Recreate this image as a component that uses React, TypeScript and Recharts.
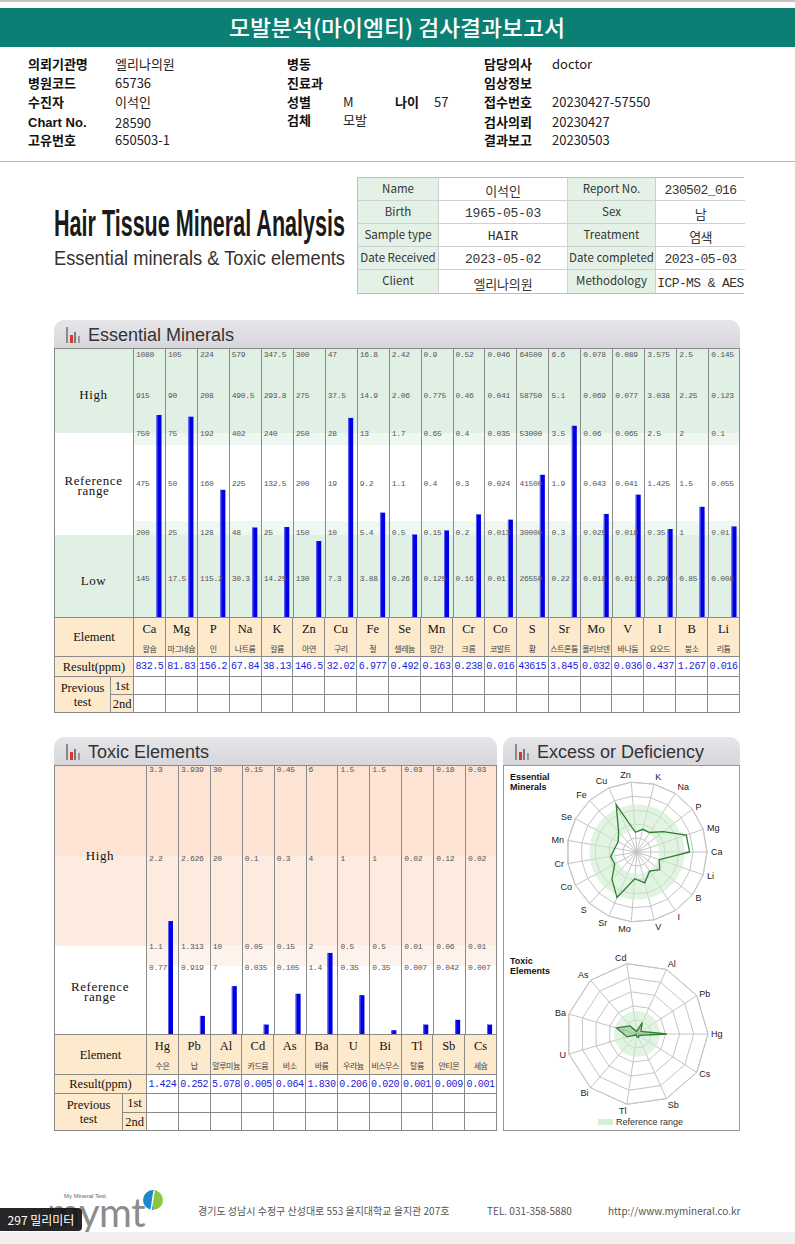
import React from 'react';
import {
  BarChart, Bar, XAxis, YAxis, ReferenceArea,
  RadarChart, Radar, PolarGrid, PolarAngleAxis, PolarRadiusAxis,
} from 'recharts';

// ---------- essential minerals ----------
const ESS_SYMBOLS = ['Ca', 'Mg', 'P', 'Na', 'K', 'Zn', 'Cu', 'Fe', 'Se', 'Mn', 'Cr', 'Co', 'S', 'Sr', 'Mo', 'V', 'I', 'B', 'Li'];
const ESS_NAMES = ['칼슘', '마그네슘', '인', '나트륨', '칼륨', '아연', '구리', '철', '셀레늄', '망간', '크롬', '코발트', '황', '스트론튬', '몰리브덴', '바나듐', '요오드', '붕소', '리튬'];
const ESS_RESULTS = [832.5, 81.83, 156.2, 67.84, 38.13, 146.5, 32.02, 6.977, 0.492, 0.163, 0.238, 0.016, 43615, 3.845, 0.032, 0.036, 0.437, 1.267, 0.016];
const ESS_TOP = [1080, 105, 224, 579, 347.5, 300, 47, 16.8, 2.42, 0.9, 0.52, 0.046, 64500, 6.6, 0.078, 0.089, 3.575, 2.5, 0.145];
const ESS_HIGH = [915, 90, 208, 490.5, 293.8, 275, 37.5, 14.9, 2.06, 0.775, 0.46, 0.041, 58750, 5.1, 0.069, 0.077, 3.038, 2.25, 0.123];
const ESS_REF_HIGH = [750, 75, 192, 402, 240, 250, 28, 13, 1.7, 0.65, 0.4, 0.035, 53000, 3.5, 0.06, 0.065, 2.5, 2, 0.1];
const ESS_REF_MID = [475, 50, 160, 225, 132.5, 200, 19, 9.2, 1.1, 0.4, 0.3, 0.024, 41500, 1.9, 0.043, 0.041, 1.425, 1.5, 0.055];
const ESS_REF_LOW = [200, 25, 128, 48, 25, 150, 10, 5.4, 0.5, 0.15, 0.2, 0.013, 30000, 0.3, 0.025, 0.018, 0.35, 1, 0.01];
const ESS_LOW = [145, 17.5, 115.2, 30.3, 14.25, 130, 7.3, 3.88, 0.26, 0.125, 0.16, 0.01, 26550, 0.22, 0.018, 0.011, 0.296, 0.85, 0.008];

// ---------- toxic elements ----------
const TOX_SYMBOLS = ['Hg', 'Pb', 'Al', 'Cd', 'As', 'Ba', 'U', 'Bi', 'Tl', 'Sb', 'Cs'];
const TOX_NAMES = ['수은', '납', '알루미늄', '카드뮴', '비소', '바륨', '우라늄', '비스무스', '탈륨', '안티몬', '세슘'];
const TOX_RESULTS = [1.424, 0.252, 5.078, 0.005, 0.064, 1.830, 0.206, 0.020, 0.001, 0.009, 0.001];
const TOX_TOP = [3.3, 3.939, 30, 0.15, 0.45, 6, 1.5, 1.5, 0.03, 0.18, 0.03];
const TOX_HIGH = [2.2, 2.626, 20, 0.1, 0.3, 4, 1, 1, 0.02, 0.12, 0.02];
const TOX_REF = [1.1, 1.313, 10, 0.05, 0.15, 2, 0.5, 0.5, 0.01, 0.06, 0.01];
const TOX_LOW = [0.77, 0.919, 7, 0.035, 0.105, 1.4, 0.35, 0.35, 0.007, 0.042, 0.007];

const INFO_ROWS = [
  ['Name', '이석인', 'Report No.', '230502_016'],
  ['Birth', '1965-05-03', 'Sex', '남'],
  ['Sample type', 'HAIR', 'Treatment', '염색'],
  ['Date Received', '2023-05-02', 'Date completed', '2023-05-03'],
  ['Client', '엘리나의원', 'Methodology', 'ICP-MS & AES'],
];

// chart height in px, and where each reference mark sits (px from the bottom)
const CHART_H = 269;
const ESS_MARK_POS = [0, 38, 84, 133, 183, 221, 262];
const TOX_MARK_POS = [0, 66, 87, 175, 264];

const KR = "'Noto Sans CJK KR', sans-serif";
const SANS = "'Liberation Sans', Arial, sans-serif";
const NARROW = "'Liberation Sans Narrow', 'Noto Sans CJK KR', sans-serif";
const MONO = "'Liberation Mono', 'Noto Sans CJK KR', monospace";
const SERIF = "'Liberation Serif', 'DejaVu Serif', serif";

function toLevel(v: number, marks: number[], pos: number[]) {
  const m = [0, ...marks];
  for (let i = 1; i < m.length; i++) {
    if (v <= m[i]) return pos[i - 1] + ((v - m[i - 1]) / (m[i] - m[i - 1])) * (pos[i] - pos[i - 1]);
  }
  return CHART_H;
}

const essData = ESS_SYMBOLS.map((sym, i) => {
  const marks = [ESS_LOW[i], ESS_REF_LOW[i], ESS_REF_MID[i], ESS_REF_HIGH[i], ESS_HIGH[i], ESS_TOP[i]];
  return {
    sym,
    name: ESS_NAMES[i],
    result: String(ESS_RESULTS[i]),
    marks,
    level: toLevel(ESS_RESULTS[i], marks, ESS_MARK_POS) / CHART_H,
    band: ESS_MARK_POS[4] / CHART_H,
  };
});

const toxData = TOX_SYMBOLS.map((sym, i) => {
  const marks = [TOX_LOW[i], TOX_REF[i], TOX_HIGH[i], TOX_TOP[i]];
  return {
    sym,
    name: TOX_NAMES[i],
    result: TOX_RESULTS[i].toFixed(3),
    marks,
    level: toLevel(TOX_RESULTS[i], marks, TOX_MARK_POS) / CHART_H,
    band: TOX_MARK_POS[2] / CHART_H,
  };
});

// radar runs clockwise from the east axis, so keep the first element and reverse the rest
// to get the report's counter-clockwise order
const ccw = <T,>(rows: T[]) => [rows[0], ...rows.slice(1).reverse()];

function Txt({ x, y, children, size = 12, weight = 400, color = '#222', family = KR, align = 'left', style = {} }: any) {
  const tx = align === 'center' ? '-50%' : align === 'right' ? '-100%' : '0';
  return (
    <div
      style={{
        position: 'absolute', left: x, top: y, transform: `translate(${tx}, -50%)`,
        fontSize: size, fontWeight: weight, color, fontFamily: family, whiteSpace: 'nowrap', lineHeight: 1.15,
        textAlign: align, ...style,
      }}
    >
      {children}
    </div>
  );
}

function PanelHeader({ x, y, w, title }: { x: number; y: number; w: number; title: string }) {
  return (
    <div
      style={{
        position: 'absolute', left: x, top: y, width: w, height: 28,
        background: 'linear-gradient(#e6e6ea, #d7d7db)', borderRadius: '10px 10px 0 0',
      }}
    >
      <svg width={16} height={17} style={{ position: 'absolute', left: 12, top: 7 }}>
        <rect x={0} y={0} width={2} height={16} fill="#8a8a8a" />
        <rect x={4} y={8} width={3} height={8} fill="#d9372f" />
        <rect x={8} y={5} width={2} height={11} fill="#7a7a7a" />
        <rect x={12} y={9} width={2} height={7} fill="#9a9a9a" />
      </svg>
      <div style={{ position: 'absolute', left: 34, top: 4, fontFamily: SANS, fontSize: 18, color: '#333', lineHeight: '22px' }}>
        {title}
      </div>
    </div>
  );
}

type Band = { from: number; to: number; fill: string };

function BarPanel({
  x, y, w, labelW, prevW, data, markPos, bands, sideBands, sideLabels, barShift, rowH,
}: {
  x: number; y: number; w: number; labelW: number; prevW: number; data: any[]; markPos: number[];
  bands: Band[]; sideBands: Band[]; sideLabels: { lines: string[]; at: number }[]; barShift: number; rowH: number[];
}) {
  const chartW = w - labelW;
  const tableTop = y + CHART_H;
  const line = '1px solid #8a8a8a';
  const peach = '#fde9cc';
  const OffsetBar = (p: any) => {
    if (!p.height || p.height <= 0) return <g />;
    return (
      <g>
        <rect x={p.x + barShift} y={p.y} width={p.width} height={p.height} fill="#0000e4" />
        <rect x={p.x + barShift} y={p.y} width={1} height={p.height} fill="#6262f0" />
      </g>
    );
  };
  return (
    <>
      {/* label column */}
      {sideBands.map((b, i) => (
        <div key={i} style={{ position: 'absolute', left: x, top: y + b.from, width: labelW, height: b.to - b.from, background: b.fill }} />
      ))}
      {sideLabels.map((l, i) => (
        <Txt key={i} x={x + labelW / 2} y={y + l.at} size={13} family={SERIF} align="center" color="#111" style={{ lineHeight: '10px', letterSpacing: 0.6 }}>
          {l.lines.map((t, j) => <div key={j}>{t}</div>)}
        </Txt>
      ))}
      {/* bars */}
      <div style={{ position: 'absolute', left: x + labelW, top: y }}>
        <BarChart width={chartW} height={CHART_H} data={data} margin={{ top: 0, right: 0, bottom: 0, left: 0 }} barSize={5}>
          <XAxis dataKey="sym" hide />
          <YAxis type="number" domain={[0, 1]} allowDataOverflow hide />
          {bands.map((b, i) => (
            <ReferenceArea key={i} y1={b.from / CHART_H} y2={b.to / CHART_H} fill={b.fill} fillOpacity={1} stroke="none" ifOverflow="hidden" />
          ))}
          <Bar dataKey="level" shape={OffsetBar} isAnimationActive={false} />
        </BarChart>
      </div>
      {/* column rules and reference marks */}
      <div style={{ position: 'absolute', left: x + labelW, top: y, width: chartW, height: CHART_H, display: 'flex' }}>
        {data.map((d) => (
          <div key={d.sym} style={{ flex: 1, position: 'relative', borderLeft: line }}>
            {d.marks.map((m: number, j: number) => (
              <div
                key={j}
                style={{
                  position: 'absolute', left: 2, top: CHART_H - markPos[j + 1] - 5, fontSize: 8,
                  fontFamily: MONO, color: '#555', lineHeight: '10px', letterSpacing: -0.3, whiteSpace: 'nowrap',
                }}
              >
                {String(m)}
              </div>
            ))}
          </div>
        ))}
      </div>
      <div style={{ position: 'absolute', left: x, top: y, width: w - 2, height: CHART_H - 1, border: line, pointerEvents: 'none' }} />
      {/* table */}
      <div
        style={{
          position: 'absolute', left: x, top: tableTop, width: w, display: 'grid',
          gridTemplateColumns: `${prevW}px ${labelW - prevW}px repeat(${data.length}, 1fr)`,
          gridTemplateRows: rowH.map((h) => `${h}px`).join(' '),
          borderLeft: line, borderTop: line, boxSizing: 'border-box',
        }}
      >
        {[
          { t: 'Element', c: '1 / 3', r: '1 / 3' },
          { t: 'Result(ppm)', c: '1 / 3', r: '3 / 4' },
          { t: 'Previous test', c: '1 / 2', r: '4 / 6' },
          { t: '1st', c: '2 / 3', r: '4 / 5' },
          { t: '2nd', c: '2 / 3', r: '5 / 6' },
        ].map((cell) => (
          <div
            key={cell.t}
            style={{
              gridColumn: cell.c, gridRow: cell.r, background: peach, borderRight: line, borderBottom: line,
              display: 'flex', alignItems: 'center', justifyContent: 'center', textAlign: 'center',
              fontFamily: SERIF, fontSize: 12.5, color: '#111', lineHeight: '14px', padding: '0 2px',
            }}
          >
            {cell.t}
          </div>
        ))}
        {data.map((d, i) => (
          <React.Fragment key={d.sym}>
            <div style={{ gridColumn: i + 3, gridRow: 1, background: peach, borderRight: line, display: 'flex', alignItems: 'center', justifyContent: 'center', fontFamily: SERIF, fontSize: 12.5, color: '#111' }}>
              {d.sym}
            </div>
            <div style={{ gridColumn: i + 3, gridRow: 2, background: peach, borderRight: line, borderBottom: line, display: 'flex', alignItems: 'center', justifyContent: 'center', fontFamily: KR, fontSize: 8, color: '#444', whiteSpace: 'nowrap', overflow: 'hidden', letterSpacing: -0.5 }}>
              {d.name}
            </div>
            <div style={{ gridColumn: i + 3, gridRow: 3, borderRight: line, borderBottom: line, display: 'flex', alignItems: 'center', justifyContent: 'center', fontFamily: MONO, fontSize: 10, color: '#1c1cd8', letterSpacing: -0.4, whiteSpace: 'nowrap' }}>
              {d.result}
            </div>
            <div style={{ gridColumn: i + 3, gridRow: 4, borderRight: line, borderBottom: line }} />
            <div style={{ gridColumn: i + 3, gridRow: 5, borderRight: line, borderBottom: line }} />
          </React.Fragment>
        ))}
      </div>
    </>
  );
}

function AnnulusShape(innerRatio: number) {
  return (p: any) => {
    const pt = p.points && p.points[0];
    if (!pt) return <g />;
    const { cx, cy } = pt;
    const R = pt.radius;
    const r = R * innerRatio;
    const ring = (rad: number) =>
      `M${cx + rad},${cy} A${rad},${rad} 0 1 0 ${cx - rad},${cy} A${rad},${rad} 0 1 0 ${cx + rad},${cy} Z`;
    return <path d={ring(R) + (r > 0 ? ' ' + ring(r) : '')} fill="#cdeccf" fillOpacity={0.6} fillRule="evenodd" stroke="none" />;
  };
}

export default function App() {
  const essR = 70;
  const toxR = 71;
  return (
    <div style={{ position: 'absolute', left: 0, top: 0, width: 795, height: 1244, background: '#fff', overflow: 'hidden', fontFamily: KR }}>
      <div style={{ position: 'absolute', left: 0, top: 0, width: 795, height: 2, background: '#c4c4c4' }} />
      <div style={{ position: 'absolute', left: 0, top: 8, width: 795, height: 39, background: '#0b7f73' }} />
      <svg width={795} height={39} style={{ position: 'absolute', left: 0, top: 8 }}>
        <text x={397} y={28} textAnchor="middle" fontFamily={KR} fontSize={22} fontWeight={500} fill="#fff" textLength={336} lengthAdjust="spacingAndGlyphs">
          모발분석(마이엠티) 검사결과보고서
        </text>
      </svg>

      {/* patient header */}
      {[
        ['의뢰기관명', '엘리나의원', 64], ['병원코드', '65736', 83], ['수진자', '이석인', 102], ['Chart No.', '28590', 123], ['고유번호', '650503-1', 140],
      ].map(([l, v, yy]) => (
        <React.Fragment key={l as string}>
          <Txt x={28} y={yy} size={13} weight={700} color="#111" family={l === 'Chart No.' ? SANS : KR}>{l}</Txt>
          <Txt x={115} y={yy} size={13} family={NARROW} color="#222">{v}</Txt>
        </React.Fragment>
      ))}
      {[
        ['병동', '', 64], ['진료과', '', 83], ['성별', 'M', 102], ['검체', '모발', 120],
      ].map(([l, v, yy]) => (
        <React.Fragment key={l as string}>
          <Txt x={287} y={yy} size={13} weight={700} color="#111">{l}</Txt>
          <Txt x={343} y={yy} size={13} family={NARROW} color="#222">{v}</Txt>
        </React.Fragment>
      ))}
      <Txt x={395} y={102} size={13} weight={700} color="#111">나이</Txt>
      <Txt x={434} y={102} size={13} family={NARROW} color="#222">57</Txt>
      {[
        ['담당의사', 'doctor', 64], ['임상정보', '', 83], ['접수번호', '20230427-57550', 102], ['검사의뢰', '20230427', 122], ['결과보고', '20230503', 140],
      ].map(([l, v, yy]) => (
        <React.Fragment key={l as string}>
          <Txt x={484} y={yy} size={13} weight={700} color="#111">{l}</Txt>
          <Txt x={552} y={yy} size={13} family={NARROW} color="#222">{v}</Txt>
        </React.Fragment>
      ))}
      <div style={{ position: 'absolute', left: 0, top: 161, width: 795, height: 1, background: '#b8b8b8' }} />

      {/* report title */}
      <svg width={310} height={80} style={{ position: 'absolute', left: 50, top: 196 }}>
        <text x={4} y={40} fontFamily="'Liberation Sans Narrow', 'Liberation Sans', sans-serif" fontWeight={700} fontSize={37} fill="#1a1a1a" textLength={291} lengthAdjust="spacingAndGlyphs">
          Hair Tissue Mineral Analysis
        </text>
        <text x={4} y={69} fontFamily="'Liberation Sans Narrow', 'Liberation Sans', sans-serif" fontSize={20} fill="#333" textLength={291} lengthAdjust="spacingAndGlyphs">
          Essential minerals &amp; Toxic elements
        </text>
      </svg>

      {/* info table */}
      <div
        style={{
          position: 'absolute', left: 357, top: 177, width: 387, display: 'grid',
          gridTemplateColumns: '81px 129px 88px 89px', gridTemplateRows: 'repeat(5, 23px)',
          border: '1px solid #bdbdbd', boxSizing: 'border-box',
        }}
      >
        {INFO_ROWS.flatMap((row, ri) =>
          row.map((cell, ci) => (
            <div
              key={`${ri}-${ci}`}
              style={{
                background: ci % 2 === 0 ? '#e4f1e6' : '#fff',
                borderRight: ci < 3 ? '1px solid #d0d0d0' : 'none',
                borderBottom: ri < 4 ? '1px solid #d0d0d0' : 'none',
                display: 'flex', alignItems: 'center', justifyContent: 'center', whiteSpace: 'nowrap', overflow: 'visible',
                fontFamily: ci % 2 === 0 ? NARROW : MONO,
                fontSize: ci % 2 === 0 ? 11.5 : 13,
                color: '#333',
                paddingBottom: ci % 2 === 0 ? 3 : 0,
                paddingTop: ci % 2 === 0 ? 0 : 3,
                letterSpacing: ci === 3 ? -0.6 : ci === 1 ? -0.2 : 0,
              }}
            >
              {cell}
            </div>
          )),
        )}
      </div>

      {/* essential minerals */}
      <PanelHeader x={54} y={320} w={686} title="Essential Minerals" />
      <BarPanel
        x={54} y={348} w={686} labelW={79} prevW={56}
        data={essData} markPos={ESS_MARK_POS}
        bands={[
          { from: 184, to: 269, fill: '#e1f0e5' },
          { from: 172, to: 184, fill: '#eef7f0' },
          { from: 96, to: 172, fill: '#ffffff' },
          { from: 82, to: 96, fill: '#eef7f0' },
          { from: 0, to: 82, fill: '#e1f0e5' },
        ]}
        sideBands={[
          { from: 0, to: 85, fill: '#e1f0e5' },
          { from: 85, to: 187, fill: '#ffffff' },
          { from: 187, to: 269, fill: '#e1f0e5' },
        ]}
        sideLabels={[
          { lines: ['High'], at: 47 },
          { lines: ['Reference', 'range'], at: 138 },
          { lines: ['Low'], at: 233 },
        ]}
        barShift={10.5}
        rowH={[23, 16, 20, 18, 18]}
      />

      {/* toxic elements */}
      <PanelHeader x={54} y={737} w={443} title="Toxic Elements" />
      <BarPanel
        x={54} y={765} w={443} labelW={92} prevW={68}
        data={toxData} markPos={TOX_MARK_POS}
        bands={[
          { from: 178, to: 269, fill: '#fce3d4' },
          { from: 89, to: 178, fill: '#fdebe0' },
          { from: 68, to: 89, fill: '#fef3ec' },
          { from: 0, to: 68, fill: '#ffffff' },
        ]}
        sideBands={[
          { from: 0, to: 91, fill: '#fce3d4' },
          { from: 91, to: 181, fill: '#fdebe0' },
          { from: 181, to: 269, fill: '#ffffff' },
        ]}
        sideLabels={[
          { lines: ['High'], at: 91 },
          { lines: ['Reference', 'range'], at: 227 },
        ]}
        barShift={9}
        rowH={[22, 18, 19, 19, 18]}
      />

      {/* excess or deficiency */}
      <PanelHeader x={503} y={737} w={237} title="Excess or Deficiency" />
      <div style={{ position: 'absolute', left: 503, top: 765, width: 235, height: 364, border: '1px solid #9a9a9a' }} />
      <Txt x={510} y={782} size={9} weight={700} family={SANS} color="#111" style={{ lineHeight: '10px' }}>
        <div>Essential</div><div>Minerals</div>
      </Txt>
      <div style={{ position: 'absolute', left: 504, top: 766 }}>
        <RadarChart width={234} height={178} data={ccw(essData)} cx={133} cy={86} outerRadius={essR} startAngle={0} endAngle={-360} margin={{ top: 0, right: 0, bottom: 0, left: 0 }}>
          <PolarGrid gridType="polygon" polarRadius={[0.2, 0.4, 0.6, 0.8, 1].map((f) => f * essR)} stroke="#c4c4c4" />
          <PolarAngleAxis dataKey="sym" tickSize={4} tickLine={false} axisLine={{ stroke: '#c4c4c4' }} tick={{ fontSize: 9, fill: '#222', fontFamily: SANS }} />
          <PolarRadiusAxis domain={[0, 1]} allowDataOverflow tick={false} axisLine={false} />
          <Radar dataKey="band" shape={AnnulusShape(ESS_MARK_POS[2] / ESS_MARK_POS[4])} isAnimationActive={false} />
          <Radar dataKey="level" stroke="#2f7d2f" strokeWidth={1.3} fill="none" fillOpacity={0} dot={false} isAnimationActive={false} />
        </RadarChart>
      </div>
      <Txt x={510} y={966} size={9} weight={700} family={SANS} color="#111" style={{ lineHeight: '10px' }}>
        <div>Toxic</div><div>Elements</div>
      </Txt>
      <div style={{ position: 'absolute', left: 504, top: 945 }}>
        <RadarChart width={234} height={172} data={ccw(toxData)} cx={133} cy={89} outerRadius={toxR} startAngle={0} endAngle={-360} margin={{ top: 0, right: 0, bottom: 0, left: 0 }}>
          <PolarGrid gridType="polygon" polarRadius={[0.2, 0.4, 0.6, 0.8, 1].map((f) => f * toxR)} stroke="#c4c4c4" />
          <PolarAngleAxis dataKey="sym" tickSize={3} tickLine={false} axisLine={{ stroke: '#c4c4c4' }} tick={{ fontSize: 9, fill: '#222', fontFamily: SANS }} />
          <PolarRadiusAxis domain={[0, 1]} allowDataOverflow tick={false} axisLine={false} />
          <Radar dataKey="band" shape={AnnulusShape(0)} isAnimationActive={false} />
          <Radar dataKey="level" stroke="#2f7d2f" strokeWidth={1.3} fill="#2f7d2f" fillOpacity={0.25} dot={false} isAnimationActive={false} />
        </RadarChart>
      </div>
      <div style={{ position: 'absolute', left: 598, top: 1119, width: 15, height: 6, background: '#d6efd8' }} />
      <Txt x={616} y={1122} size={9} family={SANS} color="#333">Reference range</Txt>

      {/* footer */}
      <Txt x={64} y={1196} size={6} family={SANS} color="#666">My Mineral Test</Txt>
      <Txt x={47} y={1212} size={40} family="'Lato', 'Liberation Sans', sans-serif" color="#8c8c8c" style={{ letterSpacing: -0.5, lineHeight: '34px' }}>mymt</Txt>
      <svg width={22} height={24} style={{ position: 'absolute', left: 142, top: 1189 }}>
        <path d="M11,1 A10,10 0 0 0 11,21 Z" fill="#1f87c9" />
        <path d="M11,1 A10,10 0 0 1 11,21 Z" fill="#8cc63f" />
        <path d="M9,22 L12,2" stroke="#fff" strokeWidth={1.5} />
      </svg>
      <Txt x={198} y={1211} size={10} color="#555">경기도 성남시 수정구 산성대로 553 을지대학교 을지관 207호</Txt>
      <Txt x={487} y={1211} size={10} color="#555">TEL. 031-358-5880</Txt>
      <Txt x={608} y={1211} size={10} color="#555">http://www.mymineral.co.kr</Txt>
      <div style={{ position: 'absolute', left: 0, top: 1232, width: 795, height: 12, background: '#f0f0f0' }} />
      <div
        style={{
          position: 'absolute', left: 0, top: 1208, width: 82, height: 23, background: 'rgba(20,20,20,0.92)',
          borderRadius: '0 4px 4px 0', color: '#fff', fontSize: 12, fontFamily: KR,
          display: 'flex', alignItems: 'center', justifyContent: 'center',
        }}
      >
        297 밀리미터
      </div>
    </div>
  );
}
